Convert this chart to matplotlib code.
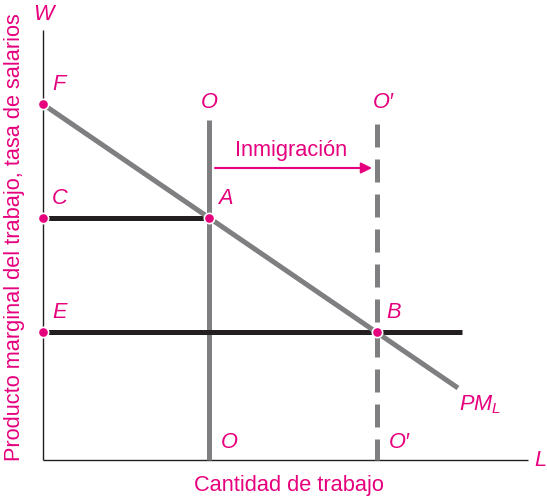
import matplotlib
matplotlib.use("Agg")
import matplotlib.pyplot as plt

plt.rcParams["font.family"] = ["Liberation Sans", "DejaVu Sans"]
plt.rcParams["mathtext.fontset"] = "custom"
plt.rcParams["mathtext.it"] = "Liberation Sans:italic"
plt.rcParams["mathtext.rm"] = "Liberation Sans"

MAGENTA = "#e6007e"
GRAY = "#7f7f82"
BLACK = "#231f20"
FS = 15.7

# puntos (cantidad de trabajo, salario)
POINT_NAMES = ["F", "C", "E", "A", "B"]
POINT_X = [0, 0, 0, 166, 334]
POINT_Y = [356, 242, 128, 242, 128]

# curva PM_L
PML_X = [4, 415]
PML_Y = [353, 72]

# oferta de trabajo antes / después
O_X = 166
O2_X = 334
O_TOP = 340

# salarios de equilibrio
W_HIGH = 242
W_LOW = 128
E_LINE_END = 419

fig = plt.figure(figsize=(5.47, 4.98), dpi=100)
ax = fig.add_axes([0, 0, 1, 1])
ax.set_xlim(-43, 504)
ax.set_ylim(-38, 460)
ax.axis("off")

# ejes
ax.plot([0, 0], [0, 430], color=BLACK, lw=1.0, solid_capstyle="butt")
ax.plot([0, 485], [0, 0], color=BLACK, lw=1.0, solid_capstyle="butt")

# líneas verticales O y O'
ax.plot([O_X, O_X], [0, O_TOP], color=GRAY, lw=3.6, solid_capstyle="butt", zorder=2)
ax.plot([O2_X, O2_X], [O_TOP - 4, 0], color=GRAY, lw=3.6, dashes=(4.6, 2.4), zorder=2)

# horizontales
ax.plot([5, O_X], [W_HIGH, W_HIGH], color=BLACK, lw=3.6, solid_capstyle="butt", zorder=3)
ax.plot([5, E_LINE_END], [W_LOW, W_LOW], color=BLACK, lw=3.6, solid_capstyle="butt", zorder=3)

# PM_L
ax.plot(PML_X, PML_Y, color=GRAY, lw=3.6, solid_capstyle="butt", zorder=3)

# puntos
ax.scatter(POINT_X, POINT_Y, s=55, color=MAGENTA, edgecolor="white", linewidth=1.2, zorder=5, clip_on=False)

lab_kw = dict(color=MAGENTA, fontsize=FS, style="italic")
for n, x, y in zip(POINT_NAMES, POINT_X, POINT_Y):
    ax.text(x + 9, y + 9, n, ha="left", va="bottom", **lab_kw)

ax.text(0, 435, "W", ha="center", va="bottom", **lab_kw)
ax.text(491, 0, "L", ha="left", va="center", **lab_kw)
ax.text(O_X, 347, "O", ha="center", va="bottom", **lab_kw)
ax.text(O2_X + 6, 347, "O\u2032", ha="center", va="bottom", **lab_kw)
ax.text(O_X + 12, 7, "O", ha="left", va="bottom", **lab_kw)
ax.text(O2_X + 12, 7, "O\u2032", ha="left", va="bottom", **lab_kw)
ax.text(416, 55, r"$PM_L$", ha="left", va="center", color=MAGENTA, fontsize=FS)

# flecha de inmigración
ax.annotate("", xy=(O2_X - 5, 292), xytext=(O_X + 6, 292),
            arrowprops=dict(arrowstyle="-|>", color=MAGENTA, lw=1.5,
                            mutation_scale=16, shrinkA=0, shrinkB=0))
ax.text(248, 299, "Inmigración", ha="center", va="bottom", color=MAGENTA, fontsize=FS)

ax.text(246, -25, "Cantidad de trabajo", ha="center", va="center", color=MAGENTA, fontsize=FS)
ax.text(-28, 223, "Producto marginal del trabajo, tasa de salarios", ha="center", va="center",
        rotation=90, color=MAGENTA, fontsize=FS)

fig.savefig("out.png", dpi=100)
